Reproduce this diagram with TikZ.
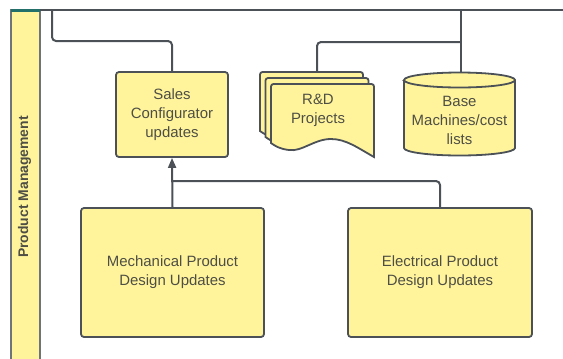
\documentclass[tikz,border=0pt]{standalone}
\usepackage{fontspec}
\setmainfont{Liberation Sans}
\usetikzlibrary{arrows.meta}
\definecolor{fillc}{HTML}{FFF49C}
\definecolor{linec}{HTML}{4B5157}
\definecolor{txtc}{HTML}{4E4E44}
\definecolor{tealc}{HTML}{23706B}
\tikzset{
  box/.style={draw=linec, fill=fillc, line width=1.8bp, rounded corners=3bp,
    align=center, text=txtc, font=\fontsize{15}{19}\selectfont, inner sep=0pt},
  lbl/.style={align=center, text=txtc, font=\fontsize{15}{19}\selectfont, inner sep=0pt},
  shp/.style={draw=linec, fill=fillc, line width=1.8bp},
  conn/.style={draw=linec, line width=2bp, rounded corners=4bp},
  arr/.style={draw=linec, line width=2bp, -{Triangle[length=10bp,width=8bp]}}
}
\begin{document}
\begin{tikzpicture}[x=1bp,y=-1bp]
\useasboundingbox (0,0) rectangle (563,358);
% lane bar
\path[shp, draw=linec!80] (11,10) rectangle (40,366);
\fill[tealc] (11,9) rectangle (40,11.5);
\node[rotate=90, text=txtc, font=\bfseries\fontsize{14}{16}\selectfont] (lane) at (24.5,187) {Product Management};
% boxes
\node[box, minimum width=112bp, minimum height=85bp] (sales) at (172,114.5) {Sales\\Configurator\\updates};
\node[box, minimum width=183bp, minimum height=129bp] (mech) at (172.5,272.5) {Mechanical Product\\Design Updates};
\node[box, minimum width=184bp, minimum height=129bp] (elec) at (440,272.5) {Electrical Product\\Design Updates};
% R&D multi-document
\foreach \dx/\dy in {-11/-12,-5.5/-6,0/0}{
  \path[shp, shift={(\dx,\dy)}] (271,143) [rounded corners=2.5bp] -- (271,84) -- (374,84) [sharp corners] -- (374,157)
    .. controls (358,148) and (346,139) .. (331,139)
    .. controls (314,139) and (302,152) .. (289,150)
    .. controls (280,149) and (275,146) .. (271,143) -- cycle;
}
\node[lbl] (rd) at (318,110) {R\&D\\Projects};
% cylinder
\path[shp] (404,80) -- (404,148) arc[start angle=180,end angle=360,x radius=55.5bp,y radius=7.5bp]
  -- (515,80) arc[start angle=0,end angle=180,x radius=55.5bp,y radius=7.5bp] -- cycle;
\draw[draw=linec, line width=1.8bp] (404,80) arc[start angle=180,end angle=360,x radius=55.5bp,y radius=7.5bp];
\node[lbl] (base) at (459.5,120) {Base\\Machines/cost\\lists};
% coordinates
\coordinate (tl) at (40,10);
\coordinate (tr) at (563,10);
\coordinate (a1) at (52,10);
\coordinate (a2) at (52,41);
\coordinate (rdtop) at (317,72);
\coordinate (bj) at (461,42);
\coordinate (b1) at (461,10);
\coordinate (basetop) at (461,72.5);
\coordinate (mj) at (172.5,181);
% connectors
\draw[conn] (tl) -- (tr);
\draw[conn] (a1) -- (a2) -| (sales.north);
\draw[conn] (rdtop) |- (bj);
\draw[conn] (b1) -- (basetop);
\draw[arr] (mech.north) -- (sales.south);
\draw[conn] (elec.north) |- (mj);
\end{tikzpicture}
\end{document}
